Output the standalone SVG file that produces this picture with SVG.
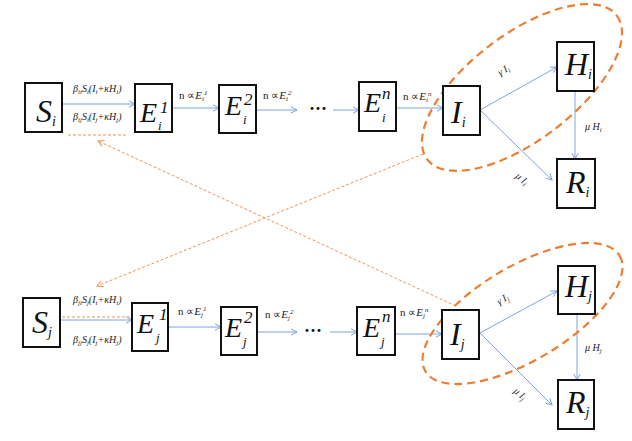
<svg xmlns="http://www.w3.org/2000/svg" width="632" height="441" viewBox="0 0 632 441">
<defs>
<marker id="ab" markerWidth="8" markerHeight="8" refX="7" refY="4" orient="auto" markerUnits="userSpaceOnUse">
<path d="M1,0.8 L7,4 L1,7.2" fill="none" stroke="#7fa3d9" stroke-width="1"/>
</marker>
<marker id="ao" markerWidth="8" markerHeight="8" refX="7" refY="4" orient="auto" markerUnits="userSpaceOnUse">
<path d="M1,0.8 L7,4 L1,7.2" fill="none" stroke="#f0935a" stroke-width="1"/>
</marker>
</defs>
<style>
.box{fill:#fff;stroke:#111;stroke-width:2}
.big{font-family:"Liberation Serif",serif;font-style:italic;font-size:32px;fill:#111}
.e{font-family:"Liberation Serif",serif;font-style:italic;font-size:28px;fill:#111}
.sb{font-size:14px}
.sp{font-family:"Liberation Serif",serif;font-style:italic;font-size:17px;fill:#111}
.ss{font-family:"Liberation Serif",serif;font-style:italic;font-size:13px;fill:#111}
.lbl{font-family:"Liberation Serif",serif;font-style:italic;font-size:10px;fill:#222}
.n{font-family:"Liberation Serif",serif;font-size:11px;fill:#222}
.s{font-size:7px}
.arr{stroke:#7fa3d9;stroke-width:1;fill:none;marker-end:url(#ab)}
.dot{stroke:#f0935a;stroke-width:1;fill:none;stroke-dasharray:3 2}
.ell{stroke:#ed7d31;stroke-width:2.2;fill:none;stroke-dasharray:8 5}
.dots{font-family:"Liberation Serif",serif;font-size:18px;font-weight:bold;fill:#111}
</style>
<rect width="632" height="441" fill="#fff"/>

<g id="connectors">
<line class="arr" x1="62" y1="104" x2="135" y2="104"/>
<line class="arr" x1="172" y1="108" x2="219" y2="108"/>
<line class="arr" x1="256" y1="110" x2="297" y2="110"/>
<line class="arr" x1="333" y1="110" x2="359" y2="110"/>
<line class="arr" x1="396" y1="108" x2="443" y2="108"/>
<line class="arr" x1="480" y1="110" x2="557" y2="67"/>
<line class="arr" x1="480" y1="110" x2="552" y2="180"/>
<line class="arr" x1="575" y1="91" x2="575" y2="159"/>
<line class="arr" x1="60" y1="320" x2="132" y2="320"/>
<line class="arr" x1="168" y1="327" x2="221" y2="327"/>
<line class="arr" x1="257" y1="332" x2="297" y2="332"/>
<line class="arr" x1="330" y1="332" x2="357" y2="332"/>
<line class="arr" x1="395" y1="334" x2="442" y2="334"/>
<line class="arr" x1="480" y1="333" x2="557" y2="291"/>
<line class="arr" x1="480" y1="333" x2="552" y2="405"/>
<line class="arr" x1="577" y1="314" x2="577" y2="380"/>
<line class="dot" x1="68" y1="135" x2="127" y2="135"/>
<line class="dot" x1="62" y1="317" x2="132" y2="317"/>
<line class="dot" x1="456" y1="306" x2="98" y2="141" marker-end="url(#ao)"/>
<line class="dot" x1="423" y1="154" x2="97" y2="286" marker-end="url(#ao)"/>
<ellipse class="ell" cx="522" cy="87.5" rx="119" ry="53" transform="rotate(-37.2 522 87.5)"/>
<ellipse class="ell" cx="522.5" cy="313.5" rx="113" ry="47" transform="rotate(-30.8 522.5 313.5)"/>
</g>

<g id="labels">
<text class="lbl" x="73" y="92">β<tspan class="s" dy="2">ii</tspan><tspan dy="-2">S</tspan><tspan class="s" dy="2">i</tspan><tspan dy="-2">(I</tspan><tspan class="s" dy="2">i</tspan><tspan dy="-2">+κH</tspan><tspan class="s" dy="2">i</tspan><tspan dy="-2">)</tspan></text>
<text class="lbl" x="73" y="120">β<tspan class="s" dy="2">ij</tspan><tspan dy="-2">S</tspan><tspan class="s" dy="2">i</tspan><tspan dy="-2">(I</tspan><tspan class="s" dy="2">j</tspan><tspan dy="-2">+κH</tspan><tspan class="s" dy="2">j</tspan><tspan dy="-2">)</tspan></text>
<text class="lbl" x="73" y="303">β<tspan class="s" dy="2">ji</tspan><tspan dy="-2">S</tspan><tspan class="s" dy="2">j</tspan><tspan dy="-2">(I</tspan><tspan class="s" dy="2">i</tspan><tspan dy="-2">+κH</tspan><tspan class="s" dy="2">i</tspan><tspan dy="-2">)</tspan></text>
<text class="lbl" x="73" y="343">β<tspan class="s" dy="2">jj</tspan><tspan dy="-2">S</tspan><tspan class="s" dy="2">j</tspan><tspan dy="-2">(I</tspan><tspan class="s" dy="2">j</tspan><tspan dy="-2">+κH</tspan><tspan class="s" dy="2">j</tspan><tspan dy="-2">)</tspan></text>

<text class="n" x="179" y="99">n ∝<tspan font-style="italic">E</tspan><tspan class="s" font-style="italic" dy="2">i</tspan><tspan class="s" font-style="italic" dy="-6">1</tspan></text>
<text class="n" x="263" y="99">n ∝<tspan font-style="italic">E</tspan><tspan class="s" font-style="italic" dy="2">i</tspan><tspan class="s" font-style="italic" dy="-6">2</tspan></text>
<text class="n" x="403" y="100">n ∝<tspan font-style="italic">E</tspan><tspan class="s" font-style="italic" dy="2">i</tspan><tspan class="s" font-style="italic" dy="-6">n</tspan></text>
<text class="n" x="178" y="315">n ∝<tspan font-style="italic">E</tspan><tspan class="s" font-style="italic" dy="2">j</tspan><tspan class="s" font-style="italic" dy="-6">1</tspan></text>
<text class="n" x="265" y="318">n ∝<tspan font-style="italic">E</tspan><tspan class="s" font-style="italic" dy="2">j</tspan><tspan class="s" font-style="italic" dy="-6">2</tspan></text>
<text class="n" x="400" y="316">n ∝<tspan font-style="italic">E</tspan><tspan class="s" font-style="italic" dy="2">j</tspan><tspan class="s" font-style="italic" dy="-6">n</tspan></text>

<text class="lbl" x="0" y="0" text-anchor="middle" transform="translate(505 73) rotate(-30)">γ I<tspan class="s" dy="2">i</tspan></text>
<text class="lbl" x="0" y="0" text-anchor="middle" transform="translate(520 181) rotate(40)">μ I<tspan class="s" dy="2">i</tspan></text>
<text class="lbl" x="585" y="130">μ H<tspan class="s" dy="2">i</tspan></text>
<text class="lbl" x="0" y="0" text-anchor="middle" transform="translate(504 302) rotate(-30)">γ I<tspan class="s" dy="2">j</tspan></text>
<text class="lbl" x="0" y="0" text-anchor="middle" transform="translate(518 396) rotate(40)">μ I<tspan class="s" dy="2">j</tspan></text>
<text class="lbl" x="585" y="351">μ H<tspan class="s" dy="2">j</tspan></text>

<text class="dots" x="318" y="115" text-anchor="middle">···</text>
<text class="dots" x="313" y="337" text-anchor="middle">···</text>
</g>

<g id="Si"><rect class="box" x="25" y="83" width="37" height="49"/><text class="big" x="36" y="122">S<tspan class="sb" dy="4">i</tspan></text></g>
<g id="Ei1"><rect class="box" x="135" y="84" width="37" height="48"/><text class="e" x="140" y="122">E</text><text class="ss" x="158" y="130">i</text><text class="sp" x="160" y="113">1</text></g>
<g id="Ei2"><rect class="box" x="219" y="85" width="37" height="48"/><text class="e" x="225" y="115">E</text><text class="ss" x="243" y="124">i</text><text class="sp" x="244" y="105">2</text></g>
<g id="Ein"><rect class="box" x="359" y="82" width="37" height="49"/><text class="e" x="364" y="112">E</text><text class="ss" x="382" y="122">i</text><text class="sp" x="382" y="99">n</text></g>
<g id="Ii"><rect class="box" x="443" y="86" width="37" height="49"/><text class="big" x="451" y="123">I<tspan class="sb" dy="4">i</tspan></text></g>
<g id="Hi"><rect class="box" x="557" y="42" width="37" height="49"/><text class="big" x="565" y="75">H<tspan class="sb" dy="4">i</tspan></text></g>
<g id="Ri"><rect class="box" x="557" y="159" width="38" height="49"/><text class="big" x="566" y="193">R<tspan class="sb" dy="4">i</tspan></text></g>

<g id="Sj"><rect class="box" x="23" y="298" width="37" height="49"/><text class="big" x="32" y="333">S<tspan class="sb" dy="4">j</tspan></text></g>
<g id="Ej1"><rect class="box" x="132" y="303" width="36" height="48"/><text class="e" x="137" y="333">E</text><text class="ss" x="156" y="342">j</text><text class="sp" x="159" y="320">1</text></g>
<g id="Ej2"><rect class="box" x="221" y="307" width="36" height="48"/><text class="e" x="225" y="337">E</text><text class="ss" x="243" y="346">j</text><text class="sp" x="244" y="323">2</text></g>
<g id="Ejn"><rect class="box" x="357" y="307" width="38" height="48"/><text class="e" x="363" y="337">E</text><text class="ss" x="381" y="346">j</text><text class="sp" x="382" y="322">n</text></g>
<g id="Ij"><rect class="box" x="442" y="310" width="37" height="49"/><text class="big" x="450" y="345">I<tspan class="sb" dy="4">j</tspan></text></g>
<g id="Hj"><rect class="box" x="558" y="266" width="37" height="48"/><text class="big" x="565" y="297">H<tspan class="sb" dy="4">j</tspan></text></g>
<g id="Rj"><rect class="box" x="558" y="380" width="36" height="49"/><text class="big" x="566" y="413">R<tspan class="sb" dy="4">j</tspan></text></g>
</svg>
